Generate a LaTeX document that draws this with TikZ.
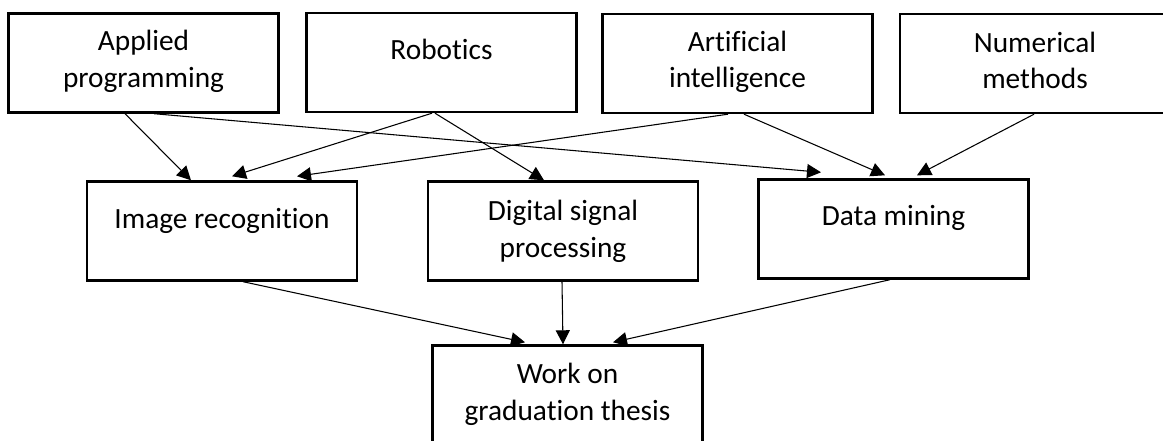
\documentclass[tikz,border=0pt]{standalone}
\usepackage{fontspec}
\setmainfont[Ligatures=CommonOff]{Carlito}
\usetikzlibrary{arrows.meta,calc}
\begin{document}
\begin{tikzpicture}[x=0.75pt,y=-0.75pt,
    box/.style={draw, line width=1.8pt, minimum width=202.5pt, minimum height=74.25pt, inner sep=0pt},
    lbl/.style={anchor=base, align=center, inner sep=0pt, font=\fontsize{22}{27.5}\selectfont},
    arr/.style={line width=0.8pt, -{Triangle[length=10.5pt,width=10.5pt]}}]
        \clip (0,0) rectangle (1163,441);

        % Courses
        \node[box] (ap) at (143.5,63) {};
        \node[box] (rob) at (441.5,62.5) {};
        \node[box] (ai) at (737.5,63.5) {};
        \node[box] (nm) at (1035,63.5) {};
        \node[lbl] (ap-t) at ($(ap.north)+(0,75)$) {Applied\\programming};
        \node[lbl] (rob-t) at ($(rob.north)+(0,48)$) {Robotics};
        \node[lbl] (ai-t) at ($(ai.north)+(0,75)$) {Artificial\\intelligence};
        \node[lbl] (nm-t) at ($(nm.north)+(0,76)$) {Numerical\\methods};

        % Special courses
        \node[box] (ir) at (222,231) {};
        \node[box] (dsp) at (563,231) {};
        \node[box] (dm) at (893.5,229) {};
        \node[lbl] (ir-t) at ($(ir.north)+(0,48)$) {Image recognition};
        \node[lbl] (dsp-t) at ($(dsp.north)+(0,77)$) {Digital signal\\processing};
        \node[lbl] (dm-t) at ($(dm.north)+(0,47)$) {Data mining};

        % Thesis
        \node[box] (th) at (567.5,395) {};
        \node[lbl] (th-t) at ($(th.north)+(0,76)$) {Work on\\graduation thesis};

        % Courses to special courses
        \draw[arr] ($(ap.south)+(-18.5,0)$) -- ($(ir.north)+(-31,0)$);
        \draw[arr] ($(ap.south)+(10.5,0)$) -- ($(dm.north)+(-72.5,-6)$);
        \draw[arr] ($(rob.south)+(-9.5,0)$) -- ($(ir.north)+(10,-4)$);
        \draw[arr] ($(rob.south)+(-6.5,0)$) -- ($(dsp.north)+(-19,0)$);
        \draw[arr] ($(ai.south)+(-9.5,0)$) -- ($(ir.north)+(75,-4)$);
        \draw[arr] ($(ai.south)+(6.5,0)$) -- ($(dm.north)+(-8.5,-3)$);
        \draw[arr] ($(nm.south)+(-1,0)$) -- ($(dm.north)+(23.5,-3)$);

        % Special courses to thesis
        \draw[arr] ($(ir.south)+(21,0)$) -- ($(th.north)+(-42.5,-2)$);
        \draw[arr] ($(dsp.south)+(-1,0)$) -- ($(th.north)+(-4.5,0)$);
        \draw[arr] ($(dm.south)+(-3.5,0)$) -- ($(th.north)+(45.5,-2)$);
    \end{tikzpicture}
\end{document}
